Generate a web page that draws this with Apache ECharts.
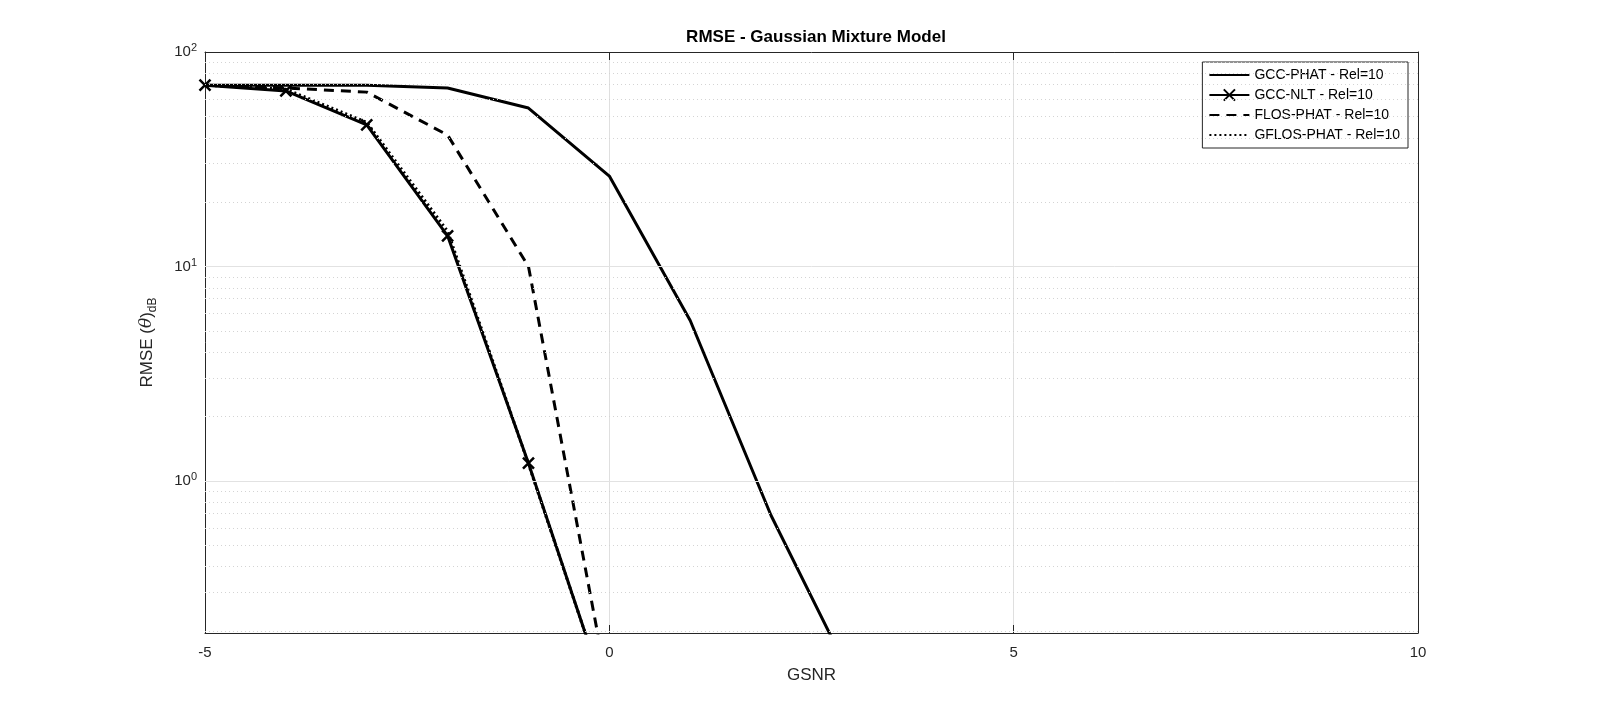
<!DOCTYPE html>
<html><head><meta charset="utf-8">
<script src="https://cdn.jsdelivr.net/npm/echarts@6/dist/echarts.min.js"></script>
<style>html,body{margin:0;background:#fff}#chart{width:1600px;height:725px}</style>
</head><body><div id="chart"></div>
<script>
var gsnr = [-5, -4, -3, -2, -1, 0, 1, 2, 3];
var gccPhat = [70, 70, 70, 68, 54.8, 26.4, 5.6, 0.69, 0.12];
var gccNlt = [70, 65.8, 45.7, 13.9, 1.21, 0.09, null, null, null];
var flosPhat = [70, 68, 65, 41, 10, 0.1, null, null, null];
var gflosPhat = [70, 67, 47, 14.6, 1.2, 0.09, null, null, null];
var yTicks = [0, 1, 2];

function lg(arr) {
    return arr.map(function(v, i) { return v == null ? [gsnr[i], null] : [gsnr[i], Math.log10(v)]; });
}

var minor = [];
[-1, 0, 1].forEach(function(k) {
    for (var m = 2; m <= 9; m++) {
        var v = Math.log10(m) + k;
        if (v > -0.709) minor.push({yAxis: v});
    }
});

var font = 'Liberation Sans';
var chart = echarts.init(document.getElementById('chart'));
var yAxisBase = {
    type: 'value', min: -0.709, max: 2,
    axisLine: {show: true, onZero: false, lineStyle: {color: '#262626'}},
    axisTick: {show: true, inside: true, length: 8, customValues: yTicks, lineStyle: {color: '#262626'}},
    splitLine: {show: false}
};
var noMark = {opacity: 0};
var option = {
    animation: false,
    title: {text: 'RMSE - Gaussian Mixture Model', left: 811, top: 24, textAlign: 'center',
        textStyle: {fontFamily: font, fontSize: 17, fontWeight: 'bold', color: '#000'}},
    grid: {left: 205, right: 182, top: 52, bottom: 92},
    legend: {
        right: 192, top: 62, orient: 'vertical', itemGap: 6, itemWidth: 40, itemHeight: 14,
        backgroundColor: '#fff', borderColor: '#262626', borderWidth: 1, padding: [6, 8, 6, 6],
        textStyle: {fontFamily: font, fontSize: 14, color: '#000'},
        data: [{name: 'GCC-PHAT - Rel=10', itemStyle: noMark}, 'GCC-NLT - Rel=10',
               {name: 'FLOS-PHAT - Rel=10', itemStyle: noMark}, {name: 'GFLOS-PHAT - Rel=10', itemStyle: noMark}]
    },
    xAxis: [{
        type: 'value', min: -5, max: 10, interval: 5,
        name: 'GSNR', nameLocation: 'middle', nameGap: 34,
        nameTextStyle: {fontFamily: font, fontSize: 17, color: '#262626'},
        axisLine: {onZero: false, lineStyle: {color: '#262626'}},
        axisTick: {inside: true, length: 8, lineStyle: {color: '#262626'}},
        axisLabel: {fontFamily: font, fontSize: 15, color: '#262626', margin: 12},
        splitLine: {show: true, lineStyle: {color: '#dfdfdf'}}
    }, {
        type: 'value', min: -5, max: 10, interval: 5, position: 'top',
        axisLine: {onZero: false, lineStyle: {color: '#262626'}},
        axisTick: {inside: true, length: 8, lineStyle: {color: '#262626'}},
        axisLabel: {show: false}, splitLine: {show: false}
    }],
    yAxis: [Object.assign({}, yAxisBase, {
        name: '{a|RMSE (}{i|θ}{a|)}{s|dB}', nameLocation: 'middle', nameGap: 46,
        nameTextStyle: {rich: {
            a: {fontFamily: font, fontSize: 17, color: '#262626'},
            i: {fontFamily: 'DejaVu Serif', fontStyle: 'italic', fontSize: 17, color: '#262626'},
            s: {fontFamily: font, fontSize: 12, color: '#262626', verticalAlign: 'bottom', padding: [12, 0, 0, 0]}
        }},
        axisLabel: {customValues: yTicks, fontFamily: font, fontSize: 15, color: '#262626',
            formatter: function(v) { return '{b|10}{e|' + Math.round(v) + '}'; },
            rich: {b: {fontFamily: font, fontSize: 15, color: '#262626'},
                   e: {fontFamily: font, fontSize: 11, color: '#262626', verticalAlign: 'top', padding: [0, 0, 8, 0]}}}
    }), Object.assign({}, yAxisBase, {position: 'right', axisLabel: {show: false}})],
    series: [{
        name: 'GCC-PHAT - Rel=10', type: 'line', data: lg(gccPhat), symbol: 'none',
        itemStyle: {color: '#000'}, lineStyle: {color: '#000', width: 3},
        markLine: {silent: true, symbol: 'none', label: {show: false},
            lineStyle: {color: '#d4d4d4', type: [1, 3], width: 1}, data: minor}
    }, {
        name: 'GCC-NLT - Rel=10', type: 'line', data: lg(gccNlt), symbol: 'path://M-1,-1L1,1M1,-1L-1,1',
        symbolSize: 11, itemStyle: {color: '#000', borderColor: '#000', borderWidth: 2.5},
        lineStyle: {color: '#000', width: 3},
        markLine: {silent: true, symbol: 'none', label: {show: false},
            lineStyle: {color: '#e2e2e2', type: 'solid', width: 1}, data: [{yAxis: 0}, {yAxis: 1}]}
    }, {
        name: 'FLOS-PHAT - Rel=10', type: 'line', data: lg(flosPhat), symbol: 'none',
        itemStyle: {color: '#000'}, lineStyle: {color: '#000', width: 3, type: [10, 7]}
    }, {
        name: 'GFLOS-PHAT - Rel=10', type: 'line', data: lg(gflosPhat), symbol: 'none',
        itemStyle: {color: '#000'}, lineStyle: {color: '#000', width: 3, type: [2, 3]}
    }]
};
chart.setOption(option);
</script></body></html>
